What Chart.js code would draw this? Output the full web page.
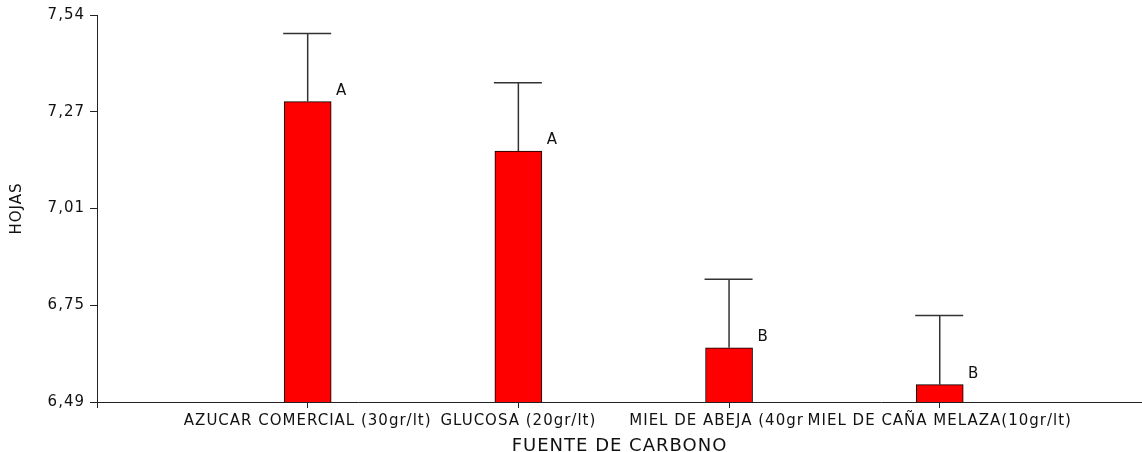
<!DOCTYPE html>
<html>
<head>
<meta charset="utf-8">
<script src="https://cdn.jsdelivr.net/npm/chart.js@4"></script>
<style>
  html, body { margin: 0; padding: 0; background: #fff; overflow: hidden; }
  #wrap { width: 1142px; height: 452px; }
</style>
</head>
<body>
<div id="wrap"><canvas id="chart" width="1142" height="452"></canvas></div>
<script>
// data
const categories = ['AZUCAR COMERCIAL (30gr/lt)', 'GLUCOSA (20gr/lt)', 'MIEL DE ABEJA (40gr/lt)', 'MIEL DE CAÑA MELAZA(10gr/lt)'];
const means = [7.305, 7.171, 6.637, 6.537];
const errors = [0.185, 0.185, 0.186, 0.188];
const groups = ['A', 'A', 'B', 'B'];
const yTickLabels = ['6,49', '6,75', '7,01', '7,27', '7,54'];

const FONT = 'DejaVu Sans';
const INK = '#111';

// old windows-style text is spaced out a bit
const spacing = {
  id: 'spacing',
  beforeUpdate(chart) { chart.ctx.letterSpacing = '1px'; },
  beforeDraw(chart) { chart.ctx.letterSpacing = '1px'; }
};

// error bars and the letters next to each bar
const errorBars = {
  id: 'errorBars',
  afterDatasetsDraw(chart) {
    const ctx = chart.ctx;
    const y = chart.scales.y;
    const meta = chart.getDatasetMeta(0);
    ctx.save();
    meta.data.forEach((bar, i) => {
      const top = y.getPixelForValue(means[i]);
      const hi = y.getPixelForValue(means[i] + errors[i]);
      const half = bar.width / 2;
      ctx.strokeStyle = '#333';
      ctx.lineWidth = 1.5;
      ctx.beginPath();
      ctx.moveTo(bar.x, top);
      ctx.lineTo(bar.x, hi);
      ctx.moveTo(bar.x - half - 1, hi);
      ctx.lineTo(bar.x + half, hi);
      ctx.stroke();
      ctx.fillStyle = INK;
      ctx.font = '15px "' + FONT + '"';
      ctx.textAlign = 'center';
      ctx.textBaseline = 'middle';
      ctx.fillText(groups[i], bar.x + 34, top - 11);
    });
    ctx.restore();
  }
};

new Chart(document.getElementById('chart'), {
  type: 'bar',
  data: {
    datasets: [{
      data: categories.map((c, i) => ({ x: i + 1, y: means[i] })),
      backgroundColor: '#ff0000',
      borderColor: '#000',
      borderWidth: 1,
      barThickness: 47
    }]
  },
  options: {
    responsive: false,
    animation: false,
    layout: { padding: { top: 15, left: 0, right: 0, bottom: 0 } },
    plugins: { legend: { display: false }, tooltip: { enabled: false } },
    scales: {
      x: {
        type: 'linear',
        min: 0,
        max: 4.96,
        offset: false,
        border: { color: '#222', width: 1 },
        grid: { offset: false, drawOnChartArea: false, drawTicks: true, tickLength: 6, color: '#222' },
        ticks: {
          stepSize: 1,
          includeBounds: false,
          autoSkip: false,
          maxRotation: 0,
          padding: 4,
          color: INK,
          font: { family: FONT, size: 15 },
          showLabelBackdrop: true,
          backdropColor: '#fff',
          backdropPadding: { top: 0, bottom: 0, left: 4, right: 0 },
          callback: (v) => categories[v - 1] || ''
        },
        title: {
          display: true,
          text: 'FUENTE DE CARBONO',
          color: INK,
          font: { family: FONT, size: 18, lineHeight: 1 },
          padding: { top: 0, bottom: -3 }
        },
        afterFit: (s) => { s.height = 50; }
      },
      y: {
        min: 6.49,
        max: 7.54,
        border: { color: '#222', width: 1 },
        grid: { drawOnChartArea: false, drawTicks: true, tickLength: 7, color: '#222' },
        ticks: {
          stepSize: 0.2625,
          padding: 5,
          color: INK,
          font: { family: FONT, size: 15 },
          callback: (v, i) => yTickLabels[i]
        },
        title: {
          display: true,
          text: 'HOJAS',
          color: INK,
          font: { family: FONT, size: 15, lineHeight: 1.2 },
          padding: { top: 8, bottom: 0 }
        },
        afterFit: (s) => { s.width = 97; }
      }
    }
  },
  plugins: [spacing, errorBars]
});
</script>
</body>
</html>
